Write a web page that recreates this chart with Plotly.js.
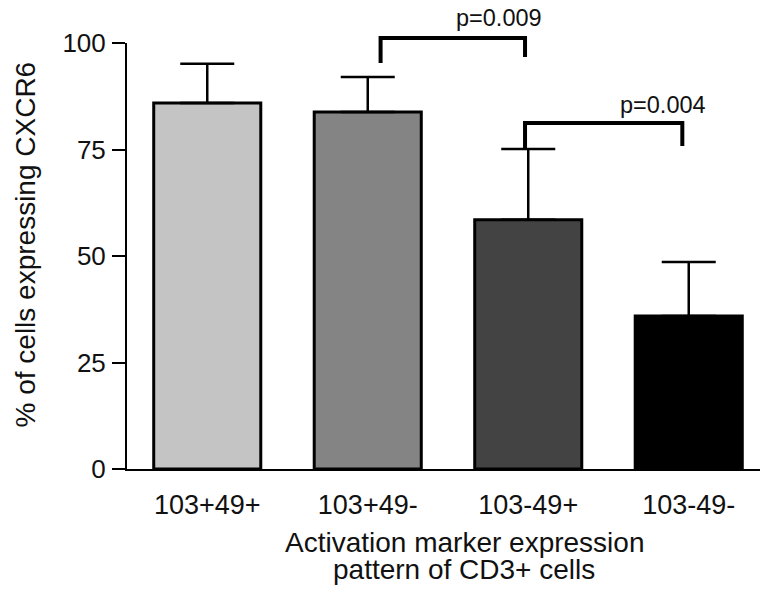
<!DOCTYPE html>
<html>
<head>
<meta charset="utf-8">
<script src="https://cdn.plot.ly/plotly-3.0.1.min.js"></script>
<style>html,body{margin:0;padding:0;background:#fff;}#chart{width:760px;height:597px;}</style>
</head>
<body>
<div id="chart"></div>
<script>
// ---- data ----
const categories = ['103+49+', '103+49-', '103-49+', '103-49-'];
const meanPct = [85.9, 83.8, 58.5, 35.9];
const errUp = [9.2, 8.2, 16.6, 12.7];
const errDown = [0, 0, 0, 0];
const pLabels = ['p=0.009', 'p=0.004'];
const pPairs = [[1, 2], [2, 3]];
const yTickVals = [0, 25, 50, 75, 100];

// ---- styling ----
const barColors = ['#c4c4c4', '#848484', '#434343', '#000000'];
const FONT = '"Liberation Sans", Arial, Helvetica, sans-serif';
const xRange = [-0.5, 3.444];
const yRange = [0, 100];

function px(c) { return (c - xRange[0]) / (xRange[1] - xRange[0]); }
function py(v) { return (v - yRange[0]) / (yRange[1] - yRange[0]); }

// bracket geometry (offsets relative to the compared bars)
const bracketStyle = [
  {dl: 0.08, dr: -0.02, top: 101.2, legL: 95.3, legR: 96.7, tx: 1.82, ty: 105.9},
  {dl: -0.02, dr: -0.04, top: 81.2, legL: 75.1, legR: 75.8, tx: 2.84, ty: 85.4}
];

const shapes = [];
const annotations = [];
pPairs.forEach(function (pair, i) {
  const s = bracketStyle[i];
  const xl = px(pair[0] + s.dl), xr = px(pair[1] + s.dr);
  shapes.push({
    type: 'path', xref: 'paper', yref: 'paper',
    path: 'M' + xl + ',' + py(s.legL) + ' L' + xl + ',' + py(s.top) +
          ' L' + xr + ',' + py(s.top) + ' L' + xr + ',' + py(s.legR),
    line: {color: '#000', width: 4}
  });
  annotations.push({
    xref: 'paper', yref: 'paper', x: px(s.tx), y: py(s.ty),
    text: pLabels[i], showarrow: false, xanchor: 'center', yanchor: 'middle',
    font: {family: FONT, size: 23.5, color: '#111'}
  });
});

// axis titles as annotations for exact placement
annotations.push({
  xref: 'paper', yref: 'paper', x: (464 - 127) / 633, y: (469 - 542) / 426,
  text: 'Activation marker expression', showarrow: false,
  xanchor: 'center', yanchor: 'middle', font: {family: FONT, size: 28, color: '#111'}
});
annotations.push({
  xref: 'paper', yref: 'paper', x: (464 - 127) / 633, y: (469 - 569) / 426,
  text: 'pattern of CD3+ cells', showarrow: false,
  xanchor: 'center', yanchor: 'middle', font: {family: FONT, size: 28, color: '#111'}
});
annotations.push({
  xref: 'paper', yref: 'paper', x: (25.5 - 127) / 633, y: (469 - 245) / 426,
  text: '% of cells expressing CXCR6', showarrow: false, textangle: -90,
  xanchor: 'center', yanchor: 'middle', font: {family: FONT, size: 28, color: '#111'}
});

const trace = {
  type: 'bar',
  x: categories,
  y: meanPct,
  marker: {color: barColors, line: {color: '#000', width: 3}},
  error_y: {type: 'data', symmetric: false, array: errUp, arrayminus: errDown,
            color: '#000', thickness: 2.5, width: 27},
  hoverinfo: 'none'
};

const layout = {
  width: 760, height: 597,
  margin: {l: 127, r: 0, t: 43, b: 128, pad: 0},
  paper_bgcolor: '#fff', plot_bgcolor: '#fff',
  showlegend: false,
  bargap: 0.333,
  font: {family: FONT, color: '#111'},
  xaxis: {
    type: 'category', range: xRange, showline: true, linecolor: '#000', linewidth: 2,
    ticks: '', showgrid: false, zeroline: false,
    tickfont: {family: FONT, size: 27, color: '#111'}, ticklabelstandoff: 11
  },
  yaxis: {
    range: yRange, tickvals: yTickVals, showline: true, linecolor: '#000', linewidth: 2,
    ticks: 'outside', ticklen: 13, tickwidth: 2, tickcolor: '#000',
    showgrid: false, zeroline: false,
    tickfont: {family: FONT, size: 26, color: '#111'}, ticklabelstandoff: 1
  },
  shapes: shapes,
  annotations: annotations
};

Plotly.newPlot('chart', [trace], layout, {staticPlot: true, displayModeBar: false});
</script>
</body>
</html>
